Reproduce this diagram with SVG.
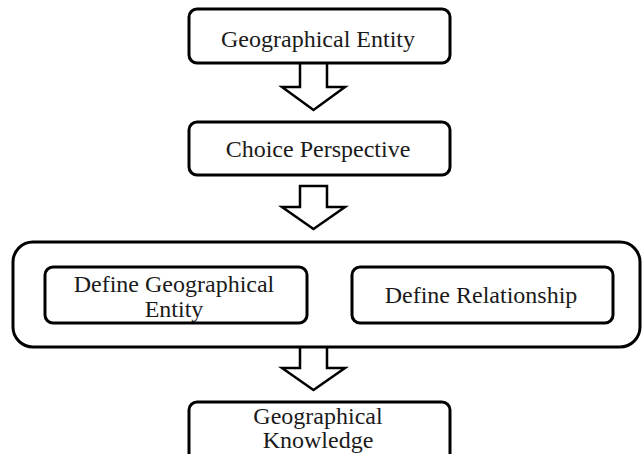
<svg xmlns="http://www.w3.org/2000/svg" width="643" height="454" viewBox="0 0 643 454">
<style>
.box{fill:#fff;stroke:#000;stroke-width:3}
.arrow{fill:#fff;stroke:#000;stroke-width:2.5;stroke-linejoin:miter}
.t{font-family:"Liberation Serif","Times New Roman",serif;font-size:24px;fill:#1a1a1a;text-anchor:middle}
</style>
<rect width="643" height="454" fill="#fff"/>
<g id="connectors">
<path class="arrow" d="M300,63 V87 H282 L313.5,110 L345,87 H327 V63"/>
<path class="arrow" d="M300,186 V207 H282 L313.5,229 L345,207 H327 V186 Z"/>
<path class="arrow" d="M300,347 V368 H282 L313.5,390 L345,368 H327 V347"/>
</g>
<g id="geographical-entity">
<rect class="box" x="189" y="9" width="261" height="54" rx="8"/>
<text class="t" x="318" y="47">Geographical Entity</text>
</g>
<g id="choice-perspective">
<rect class="box" x="189" y="122" width="261" height="53" rx="8"/>
<text class="t" x="318" y="157">Choice Perspective</text>
</g>
<g id="definition-group">
<rect class="box" x="13" y="242" width="627" height="105" rx="20"/>
</g>
<g id="define-geographical-entity">
<rect class="box" x="45" y="267" width="262" height="56" rx="8"/>
<text class="t" x="174" y="292">Define Geographical</text>
<text class="t" x="174" y="317">Entity</text>
</g>
<g id="define-relationship">
<rect class="box" x="352" y="267" width="261" height="56" rx="8"/>
<text class="t" x="481" y="303">Define Relationship</text>
</g>
<g id="geographical-knowledge">
<rect class="box" x="189" y="402" width="261" height="70" rx="8"/>
<text class="t" x="318" y="424">Geographical</text>
<text class="t" x="318" y="448">Knowledge</text>
</g>
</svg>
